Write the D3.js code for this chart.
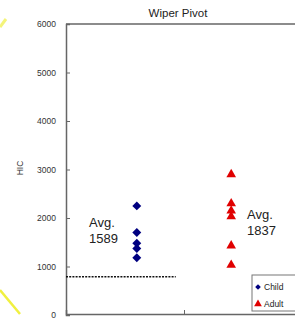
<!DOCTYPE html>
<html><head><meta charset="utf-8">
<script src="https://cdn.jsdelivr.net/npm/d3@7"></script>
<style>body{margin:0;background:#fff;}svg{display:block;}</style>
</head><body>
<script>
const title = "Wiper Pivot";
const yTicks = [0, 1000, 2000, 3000, 4000, 5000, 6000];
const childValues = [2250, 1700, 1480, 1370, 1180];
const adultValues = [2900, 2300, 2150, 2030, 1430, 1030];
const childAvg = "1589";
const adultAvg = "1837";
const threshold = 790;
const groupPos = {Child: 0.6, Adult: 1.4};

const W = 295, H = 320;
const svg = d3.select("body").append("svg").attr("width", W).attr("height", H);
const font = "Arial, 'Liberation Sans', sans-serif";

const y = d3.scaleLinear().domain([0, 6000]).range([315, 24]);
const x = d3.scaleLinear().domain([0, 2]).range([66, 302]);

// yellow slide decorations
svg.append("line").attr("x1", 0).attr("y1", 27).attr("x2", 6).attr("y2", 19)
  .attr("stroke", "#f2f25a").attr("stroke-width", 3).attr("opacity", 0.8);
svg.append("line").attr("x1", 0).attr("y1", 290).attr("x2", 20).attr("y2", 314)
  .attr("stroke", "#f0f040").attr("stroke-width", 2.5);

// title
svg.append("text").attr("x", 178).attr("y", 17).attr("text-anchor", "middle")
  .attr("font-family", font).attr("font-size", 11.5).attr("fill", "#222").text(title);

// frame top
svg.append("line").attr("x1", 66).attr("x2", W).attr("y1", y(6000)).attr("y2", y(6000))
  .attr("stroke", "#666").attr("stroke-width", 1.5);

// y axis
const yAxis = d3.axisLeft(y).tickValues(yTicks).tickSize(-4).tickPadding(10).tickFormat(d3.format("d"));
const gy = svg.append("g").attr("transform", "translate(66,0)").call(yAxis);
gy.select(".domain").attr("stroke", "#666").attr("stroke-width", 1.5);
gy.selectAll(".tick line").attr("stroke", "#666");
gy.selectAll(".tick text").attr("font-family", font).attr("font-size", 8.5).attr("fill", "#333");

// x axis
const xAxis = d3.axisBottom(x).tickValues([1]).tickSize(-4).tickFormat("");
const gx = svg.append("g").attr("transform", `translate(0,${y(0) - 1})`).call(xAxis);
gx.select(".domain").attr("stroke", "#666").attr("stroke-width", 1.5);
gx.selectAll(".tick line").attr("stroke", "#666");

// y label
svg.append("text").attr("transform", "translate(23,168) rotate(-90)").attr("text-anchor", "middle")
  .attr("font-family", font).attr("font-size", 8.5).attr("fill", "#333").text("HIC");

// threshold dotted line
svg.append("line").attr("x1", x(0)).attr("x2", x(0.93)).attr("y1", y(threshold)).attr("y2", y(threshold))
  .attr("stroke", "#111").attr("stroke-width", 1.5).attr("stroke-dasharray", "2,1.2");

// points
const diamond = d3.symbol().type(d3.symbolSquare).size(40);
const tri = d3.symbol().type(d3.symbolTriangle).size(40);
svg.selectAll(".child").data(childValues).enter().append("path")
  .attr("d", diamond).attr("fill", "#000080")
  .attr("transform", d => `translate(${x(groupPos.Child)},${y(d)}) rotate(45)`);
svg.selectAll(".adult").data(adultValues).enter().append("path")
  .attr("d", tri).attr("fill", "#e00000")
  .attr("transform", d => `translate(${x(groupPos.Adult)},${y(d)})`);

// avg labels
function avgLabel(xp, y1, val) {
  const t = svg.append("text").attr("font-family", font).attr("font-size", 13).attr("fill", "#222");
  t.append("tspan").attr("x", xp).attr("y", y1).text("Avg.");
  t.append("tspan").attr("x", xp).attr("y", y1 + 16).text(val);
}
avgLabel(89, 227, childAvg);
avgLabel(247, 219, adultAvg);

// legend
svg.append("rect").attr("x", 252).attr("y", 275).attr("width", 60).attr("height", 36)
  .attr("fill", "#fff").attr("stroke", "#777").attr("stroke-width", 1);
svg.append("path").attr("d", d3.symbol().type(d3.symbolSquare).size(16))
  .attr("transform", "translate(258,287) rotate(45)").attr("fill", "#000080");
svg.append("path").attr("d", d3.symbol().type(d3.symbolTriangle).size(26))
  .attr("transform", "translate(258,304)").attr("fill", "#e00000");
svg.append("text").attr("x", 264).attr("y", 290).attr("font-family", font).attr("font-size", 8.5)
  .attr("fill", "#222").text("Child");
svg.append("text").attr("x", 264).attr("y", 307).attr("font-family", font).attr("font-size", 8.5)
  .attr("fill", "#222").text("Adult");
</script>
</body></html>
